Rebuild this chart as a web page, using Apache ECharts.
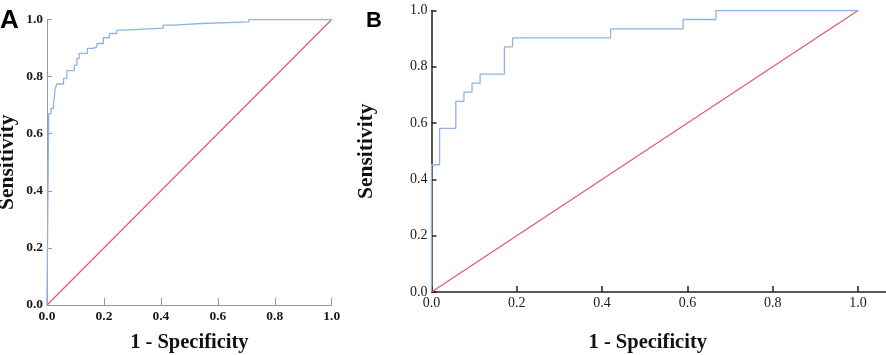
<!DOCTYPE html>
<html>
<head>
<meta charset="utf-8">
<script src="https://cdn.jsdelivr.net/npm/echarts@6/dist/echarts.min.js"></script>
<style>
html,body{margin:0;padding:0;background:#fff;}
#chart{width:886px;height:355px;}
</style>
</head>
<body>
<div id="chart"></div>
<script>
// Panel A ROC curve corners (1 - Specificity, Sensitivity)
var aFpr = [0,0,0.006,0.006,0.014,0.014,0.023,0.023,0.029,0.029,0.035,0.035,0.058,0.058,0.070,0.070,0.096,0.096,0.105,0.105,0.113,0.113,0.142,0.142,0.163,0.163,0.175,0.175,0.198,0.198,0.219,0.219,0.245,0.245,0.271,0.271,0.408,0.408,0.446,0.446,0.543,0.543,0.709,0.709,1.0];
var aTpr = [0,0.02,0.02,0.670,0.670,0.689,0.689,0.706,0.706,0.759,0.759,0.774,0.774,0.794,0.794,0.821,0.821,0.840,0.840,0.864,0.864,0.881,0.881,0.899,0.899,0.904,0.904,0.916,0.916,0.936,0.936,0.951,0.951,0.963,0.963,0.970,0.970,0.980,0.980,0.986,0.986,0.992,0.992,1.0,1.0];
// Panel B ROC curve corners
var bFpr = [0,0,0.019,0.019,0.057,0.057,0.076,0.076,0.095,0.095,0.114,0.114,0.171,0.171,0.190,0.190,0.420,0.420,0.590,0.590,0.667,0.667,1.0];
var bTpr = [0,0.452,0.452,0.581,0.581,0.677,0.677,0.710,0.710,0.742,0.742,0.774,0.774,0.871,0.871,0.903,0.903,0.935,0.935,0.968,0.968,1.0,1.0];
// Reference diagonal
var diagX = [0, 1];
var diagY = [0, 1];
// Tick values
var tickValues = [0, 0.2, 0.4, 0.6, 0.8, 1.0];
var xTitle = '1 - Specificity';
var yTitle = 'Sensitivity';
var panelLabels = ['A', 'B'];

function pairs(xs, ys){ return xs.map(function(x,i){ return [x, ys[i]]; }); }
var fmt = function(v){ return Number(v).toFixed(1); };
var SERIF = '"Liberation Serif","Times New Roman",serif';
var BLUE = '#8fb3e4';
var RED = '#e5557a';

var chart = echarts.init(document.getElementById('chart'), null, {renderer:'canvas'});

function axisCommon(color, width, labelBold, labelSize, tickLen, nameSize){
  return {
    axisLine:{show:true, onZero:false, lineStyle:{color:color, width:width}},
    axisTick:{show:true, inside:true, length:tickLen, lineStyle:{color:color, width:width}},
    axisLabel:{fontFamily:SERIF, fontWeight:labelBold?'bold':'normal', fontSize:labelSize, color:'#1a1a1a', formatter:fmt},
    splitLine:{show:false},
    nameLocation:'middle',
    nameTextStyle:{fontFamily:SERIF, fontWeight:'bold', fontSize:nameSize, color:'#111', verticalAlign:'middle'}
  };
}

var xA = echarts.util.merge(axisCommon('#999', 1, true, 13.5, 7, 20.5), {
  type:'value', gridIndex:0, min:0, max:1, interval:0.2, name:xTitle, nameGap:38
}, true);
xA.axisLabel.margin = 5;
var yA = echarts.util.merge(axisCommon('#999', 1, true, 13.5, 5, 21.5), {
  type:'value', gridIndex:0, min:0, max:1, interval:0.2, name:yTitle, nameGap:40
}, true);
yA.axisLabel.margin = 4;

var xB = echarts.util.merge(axisCommon('#222', 1.5, false, 14, 6, 20.5), {
  type:'value', gridIndex:1, min:0, max:1.0657, name:xTitle, nameGap:51
}, true);
xB.axisLabel.customValues = tickValues;
xB.axisTick.customValues = tickValues;
xB.axisLabel.margin = 4;
xB.nameTextStyle.padding = [0, 22, 0, 0];
var yB = echarts.util.merge(axisCommon('#222', 1.5, false, 14, 5, 21.5), {
  type:'value', gridIndex:1, min:0, max:1, interval:0.2, name:yTitle, nameGap:65
}, true);
yB.axisLabel.margin = 4;

chart.setOption({
  animation:false,
  backgroundColor:'#fff',
  title:[
    {text:panelLabels[0], left:0, top:8, padding:0, textStyle:{fontFamily:'"Liberation Sans",Arial,sans-serif', fontWeight:'bold', fontSize:26, color:'#000'}},
    {text:panelLabels[1], left:366, top:10, padding:0, textStyle:{fontFamily:'"Liberation Sans",Arial,sans-serif', fontWeight:'bold', fontSize:22, color:'#000'}}
  ],
  grid:[
    {left:47, top:19.5, width:284.7, height:285.5, containLabel:false, outerBoundsMode:'none'},
    {left:431.5, top:10.5, width:454.5, height:281.5, containLabel:false, outerBoundsMode:'none'}
  ],
  xAxis:[xA, xB],
  yAxis:[yA, yB],
  series:[
    {type:'line', xAxisIndex:0, yAxisIndex:0, data:pairs(diagX, diagY), symbol:'none', lineStyle:{color:RED, width:1.2}, z:2},
    {type:'line', xAxisIndex:0, yAxisIndex:0, data:pairs(aFpr, aTpr), symbol:'none', lineStyle:{color:BLUE, width:1.3}, z:3},
    {type:'line', xAxisIndex:1, yAxisIndex:1, data:pairs(diagX, diagY), symbol:'none', lineStyle:{color:RED, width:1.2}, z:2},
    {type:'line', xAxisIndex:1, yAxisIndex:1, data:pairs(bFpr, bTpr), symbol:'none', lineStyle:{color:BLUE, width:1.3}, z:3}
  ]
});
</script>
</body>
</html>
